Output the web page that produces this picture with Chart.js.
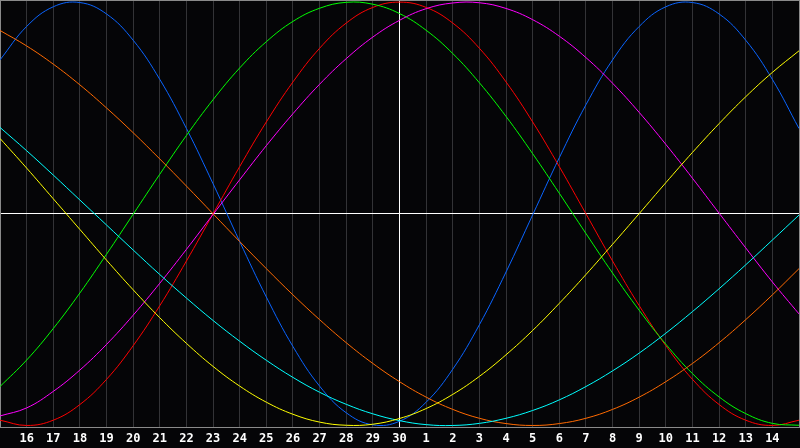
<!DOCTYPE html>
<html lang="en">
  <head>
    <meta charset="UTF-8" />
    <title>Biorhythm</title>
    <script src="https://cdn.jsdelivr.net/npm/chart.js"></script>
    <style>
      html,
      body {
        margin: 0;
        padding: 0;
        background: #050507;
      }
      #bioChart {
        display: block;
        background: #050507;
      }
    </style>
  </head>
  <body>
    <canvas id="bioChart" width="800" height="448"></canvas>
    <script>
      // day labels (first and last points are unlabeled edges)
      var dayLabels = [
        "", "16", "17", "18", "19", "20", "21", "22", "23", "24", "25",
        "26", "27", "28", "29", "30", "1", "2", "3", "4", "5", "6", "7",
        "8", "9", "10", "11", "12", "13", "14", "",
      ];

      // series values
      var physical = [
        0.727, 0.885, 0.978, 0.998, 0.944, 0.82, 0.635, 0.403, 0.142, -0.131,
        -0.393, -0.627, -0.814, -0.94, -0.997, -0.98, -0.89, -0.734, -0.524,
        -0.275, -0.005, 0.265, 0.515, 0.727, 0.885, 0.978, 0.998, 0.944, 0.82,
        0.635, 0.403,
      ];
      var awareness = [
        0.866, 0.793, 0.707, 0.609, 0.5, 0.383, 0.259, 0.131, 0, -0.131,
        -0.259, -0.383, -0.5, -0.609, -0.707, -0.793, -0.866, -0.924, -0.966,
        -0.991, -1.0, -0.991, -0.966, -0.924, -0.866, -0.793, -0.707, -0.609,
        -0.5, -0.383, -0.259,
      ];
      var intellectual = [
        -0.816, -0.691, -0.542, -0.374, -0.191, -0.002, 0.187, 0.37, 0.539,
        0.689, 0.813, 0.909, 0.971, 0.999, 0.99, 0.946, 0.867, 0.757, 0.619,
        0.46, 0.284, 0.097, -0.093, -0.28, -0.456, -0.616, -0.755, -0.865,
        -0.944, -0.99, -0.999,
      ];
      var emotional = [
        -0.975, -1.0, -0.975, -0.901, -0.782, -0.623, -0.434, -0.223, 0, 0.223,
        0.434, 0.623, 0.782, 0.901, 0.975, 1.0, 0.975, 0.901, 0.782, 0.623,
        0.434, 0.223, 0, -0.223, -0.434, -0.623, -0.782, -0.901, -0.975, -1.0,
        -0.975,
      ];
      var intuitive = [
        -0.955, -0.917, -0.839, -0.738, -0.617, -0.479, -0.328, -0.168, -0.003,
        0.161, 0.322, 0.473, 0.612, 0.733, 0.835, 0.914, 0.969, 0.996, 0.997,
        0.97, 0.917, 0.839, 0.738, 0.617, 0.479, 0.328, 0.168, 0.003, -0.161,
        -0.322, -0.473,
      ];
      var spiritual = [
        0.408, 0.298, 0.183, 0.065, -0.053, -0.171, -0.287, -0.398, -0.504,
        -0.602, -0.692, -0.773, -0.843, -0.9, -0.945, -0.977, -0.996, -1.0,
        -0.99, -0.966, -0.929, -0.879, -0.816, -0.742, -0.658, -0.564, -0.462,
        -0.354, -0.241, -0.124, -0.006,
      ];
      var aesthetic = [
        0.356, 0.216, 0.071, -0.074, -0.219, -0.359, -0.491, -0.612, -0.721,
        -0.814, -0.89, -0.947, -0.984, -0.999, -0.994, -0.967, -0.92, -0.853,
        -0.768, -0.666, -0.551, -0.423, -0.287, -0.144, 0.001, 0.147, 0.29,
        0.426, 0.553, 0.668, 0.77,
      ];

      var todayIndex = 15;
      var yLimit = 1.01;

      function line(data, color) {
        return {
          data: data,
          borderColor: color,
          borderWidth: 1,
          pointRadius: 0,
          pointHoverRadius: 0,
          tension: 0.4,
          fill: false,
        };
      }

      var ctx = document.getElementById("bioChart").getContext("2d");
      var bioChart = new Chart(ctx, {
        type: "line",
        data: {
          labels: dayLabels,
          datasets: [
            line(aesthetic, "#ffff00"),
            line(spiritual, "#00ffff"),
            line(awareness, "#ff6a00"),
            line(intuitive, "#ff00ff"),
            line(intellectual, "#00ff00"),
            line(emotional, "#ff0000"),
            line(physical, "#0a64ff"),
          ],
        },
        options: {
          responsive: false,
          devicePixelRatio: 1,
          animation: false,
          layout: { padding: { left: 0, right: 1, top: 0, bottom: 2 }, autoPadding: false },
          plugins: {
            legend: { display: false },
            tooltip: { enabled: false },
          },
          scales: {
            x: {
              offset: false,
              border: { color: "#8a8a8a", width: 1 },
              grid: {
                drawTicks: true,
                tickLength: 4,
                tickColor: "rgba(0,0,0,0)",
                lineWidth: 1,
                color: function (c) {
                  if (c.index === todayIndex) return "#ffffff";
                  if (c.index === 0 || c.index === dayLabels.length - 1)
                    return "#8a8a8a";
                  return "#333336";
                },
              },
              ticks: {
                color: "#ffffff",
                autoSkip: false,
                maxRotation: 0,
                padding: 0,
                font: { family: "DejaVu Sans Mono", size: 12, weight: "bold" },
              },
            },
            y: {
              min: -yLimit,
              max: yLimit,
              border: { color: "#8a8a8a", width: 1 },
              afterBuildTicks: function (scale) {
                scale.ticks = [
                  { value: -yLimit },
                  { value: 0 },
                  { value: yLimit },
                ];
              },
              grid: {
                drawTicks: false,
                lineWidth: 1,
                color: function (c) {
                  if (c.tick && c.tick.value === 0) return "#ffffff";
                  return "#8a8a8a";
                },
              },
              ticks: { display: false },
            },
          },
        },
      });
    </script>
  </body>
</html>
